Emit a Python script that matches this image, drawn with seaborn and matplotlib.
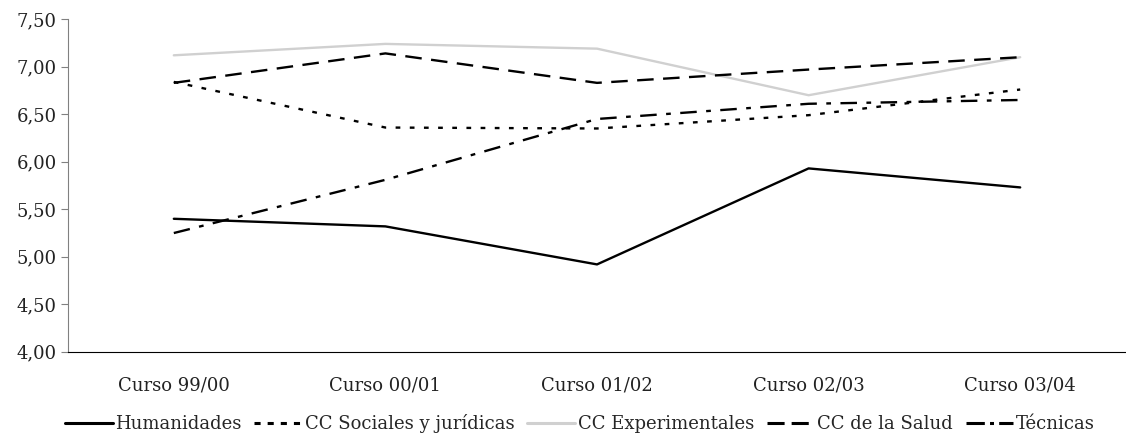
import numpy as np
import pandas as pd
import seaborn as sns
import matplotlib.pyplot as plt
from matplotlib.ticker import FuncFormatter

cursos = ["Curso 99/00", "Curso 00/01", "Curso 01/02", "Curso 02/03", "Curso 03/04"]
humanidades = [5.40, 5.32, 4.92, 5.93, 5.73]
sociales = [6.84, 6.36, 6.35, 6.49, 6.76]
experimentales = [7.12, 7.24, 7.19, 6.70, 7.10]
salud = [6.83, 7.14, 6.83, 6.97, 7.10]
tecnicas = [5.25, 5.81, 6.45, 6.61, 6.65]

series = {
    "Humanidades": humanidades,
    "CC Sociales y jurídicas": sociales,
    "CC Experimentales": experimentales,
    "CC de la Salud": salud,
    "Técnicas": tecnicas,
}

rows = []
for name, vals in series.items():
    for curso, v in zip(cursos, vals):
        rows.append({"curso": curso, "nota": v, "rama": name})
df = pd.DataFrame(rows)

sns.set_style("white")
plt.rcParams["font.family"] = ["DejaVu Serif"]

colors = {
    "Humanidades": "black",
    "CC Sociales y jurídicas": "black",
    "CC Experimentales": "#d0d0d0",
    "CC de la Salud": "black",
    "Técnicas": "black",
}
# dash patterns, in multiples of the line width
dashes = {
    "Humanidades": "",
    "CC Sociales y jurídicas": (2.0, 4.0),
    "CC de la Salud": (7.0, 4.0),
    "CC Experimentales": "",
    "Técnicas": (7.0, 4.0, 2.0, 4.0),
}

fig = plt.figure(figsize=(11.26, 4.36), dpi=100)
ax = fig.add_axes([0.0604, 0.193, 0.9396, 0.763])

sns.lineplot(data=df, x="curso", y="nota", hue="rama", style="rama",
             palette=colors, dashes=dashes, linewidth=1.7, sort=False, ax=ax)

ax.set_ylim(4.0, 7.5)
ax.set_yticks(np.arange(4.0, 7.51, 0.5))
ax.yaxis.set_major_formatter(FuncFormatter(lambda v, p: f"{v:.2f}".replace(".", ",")))
ax.set_xlim(-0.5, len(cursos) - 0.5)
ax.set_xlabel("")
ax.set_ylabel("")

for s in ["top", "right"]:
    ax.spines[s].set_visible(False)
ax.spines["left"].set_color("#808080")
ax.spines["left"].set_linewidth(0.8)
ax.spines["bottom"].set_color("black")
ax.spines["bottom"].set_linewidth(0.8)

ax.tick_params(axis="y", left=True, length=5, width=0.8, color="#808080",
               labelsize=13, pad=3, labelcolor="#222222")
ax.tick_params(axis="x", bottom=False, labelsize=13, pad=14, labelcolor="#222222")

# legend handles: their own dash pattern, a bit thicker
handles, labels = ax.get_legend_handles_labels()
legend_dashes = {
    "CC Sociales y jurídicas": (2.0, 2.3),
    "CC de la Salud": (5.6, 2.3),
    "Técnicas": (6.0, 1.7, 1.3, 1.7),
}
for h, lab in zip(handles, labels):
    h.set_linewidth(2.2)
    if lab in legend_dashes:
        h.set_dashes(legend_dashes[lab])
ax.get_legend().remove()
fig.legend(handles, labels, loc="lower center", bbox_to_anchor=(0.515, -0.03),
           ncol=5, frameon=False, fontsize=13, handlelength=2.65,
           handletextpad=0.15, columnspacing=0.7)

fig.savefig("out.png", dpi=100)
